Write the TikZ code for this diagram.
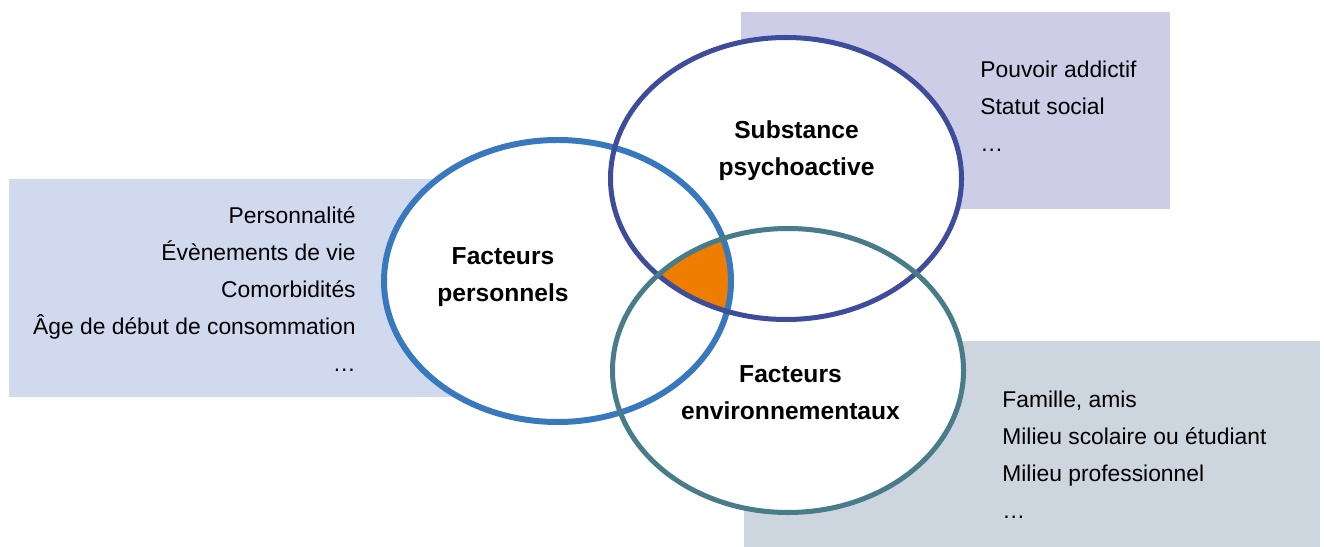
\documentclass[tikz,border=0pt]{standalone}
\usepackage{fontspec}
\setmainfont{Liberation Sans}
\usetikzlibrary{positioning}

\definecolor{boxperso}{HTML}{D0D9EE}
\definecolor{boxsubst}{HTML}{CDCDE8}
\definecolor{boxenvir}{HTML}{CDD5DE}
\definecolor{lineperso}{HTML}{3778BE}
\definecolor{linesubst}{HTML}{3E4C9C}
\definecolor{lineenvir}{HTML}{487C88}
\definecolor{core}{HTML}{EE7D00}

\begin{document}
\begin{tikzpicture}[x=0.02cm, y=-0.02cm,
    item/.style={inner sep=0pt, font=\fontsize{13}{15}\selectfont},
    title/.style={inner sep=0pt, align=center, font=\fontsize{14}{21}\selectfont\bfseries},
    ring/.style={line width=2.85pt}]
    \useasboundingbox (0,0) rectangle (1324,547);

    \coordinate (cperso) at (557.5,281);
    \coordinate (csubst) at (786,178.5);
    \coordinate (cenvir) at (788,370.5);

    \fill[boxperso] (9,179) rectangle (520,397);
    \fill[boxsubst] (741,12) rectangle (1170,209);
    \fill[boxenvir] (744,341) rectangle (1320,547);

    \fill[white] (cperso) ellipse [x radius=173.5, y radius=141];
    \fill[white] (csubst) ellipse [x radius=175.5, y radius=141];
    \fill[white] (cenvir) ellipse [x radius=175.5, y radius=142];

    \begin{scope}
      \clip (cperso) ellipse [x radius=173.5, y radius=141];
      \clip (csubst) ellipse [x radius=175.5, y radius=141];
      \fill[core] (cenvir) ellipse [x radius=175.5, y radius=142];
    \end{scope}

    \draw[ring, lineperso, line width=3.4pt] (cperso) ellipse [x radius=173.5, y radius=141];
    \draw[ring, linesubst] (csubst) ellipse [x radius=175.5, y radius=141];
    \draw[ring, lineenvir] (cenvir) ellipse [x radius=175.5, y radius=142];

    \node[title] (perso) at (503,277) {Facteurs\\personnels};
    \node[title] (subst) at (796.5,151) {Substance\\psychoactive};
    \node[title] (envir) at (790.5,392.5) {Facteurs\\environnementaux};

    \foreach \txt [count=\i] in {Personnalité, Évènements de vie, Comorbidités, Âge de début de consommation, …}
      \node[item, anchor=base east] (perso-\i) at (356,186+37*\i) {\txt};
    \foreach \txt [count=\i] in {Pouvoir addictif, Statut social, …}
      \node[item, anchor=base west] (subst-\i) at (980,41+37*\i) {\txt};
    \foreach \txt [count=\i] in {{Famille, amis}, Milieu scolaire ou étudiant, Milieu professionnel, …}
      \node[item, anchor=base west] (envir-\i) at (1002,370+37*\i) {\txt};
\end{tikzpicture}
\end{document}
